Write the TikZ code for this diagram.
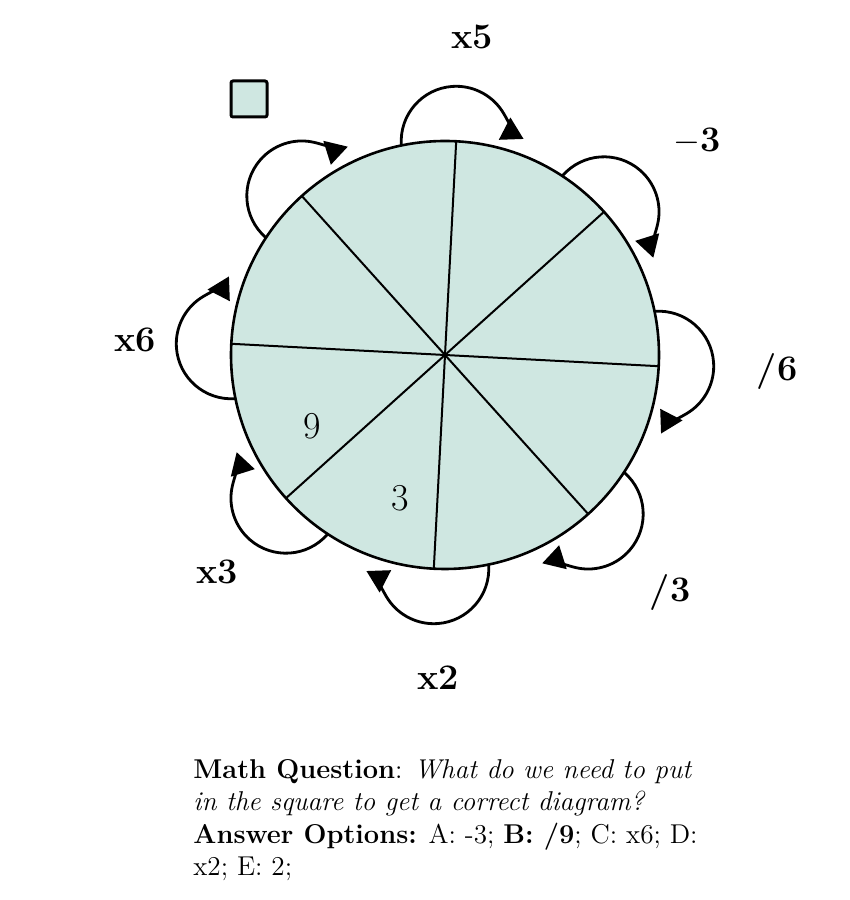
\documentclass[tikz,border=0pt]{standalone}
\usepackage{tikz}
\usetikzlibrary{arrows.meta}
\definecolor{pale}{RGB}{207,231,225}

\begin{document}
\begin{tikzpicture}[x = 0.5pt, y = 0.5pt,
  hop/.style = {line width = 1.4pt, -{Triangle[reversed, length = 11pt, width = 12pt]}},
  cut/.style = {line width = 1pt},
  oplabel/.style = {font = \fontsize{18}{20}\selectfont\bfseries},
  numlabel/.style = {font = \fontsize{19}{22}\selectfont}]
\useasboundingbox (0, 0) rectangle (850, 900);
\coordinate (C) at (445, 545);
% Wheel
\draw[fill = pale, line width = 1.3pt] (C) circle[radius = 214];
\draw[cut] (C) +(87:214) -- +(267:214);
\draw[cut] (C) +(42:214) -- +(222:214);
\draw[cut] (C) +(-3:214) -- +(177:214);
\draw[cut] (C) +(-48:214) -- +(132:214);
% Arcs
\draw[hop] (C) ++(87:214) ++(184:55) arc[start angle = 184, end angle = 2, radius = 55];
\draw[hop] (C) ++(42:214) ++(139:55) arc[start angle = 139, end angle = -43, radius = 55];
\draw[hop] (C) ++(-3:214) ++(94:55) arc[start angle = 94, end angle = -88, radius = 55];
\draw[hop] (C) ++(-48:214) ++(49:55) arc[start angle = 49, end angle = -133, radius = 55];
\draw[hop] (C) ++(267:214) ++(4:55) arc[start angle = 4, end angle = -178, radius = 55];
\draw[hop] (C) ++(222:214) ++(-41:55) arc[start angle = -41, end angle = -223, radius = 55];
\draw[hop] (C) ++(177:214) ++(274:55) arc[start angle = 274, end angle = 92, radius = 55];
\draw[hop] (C) ++(132:214) ++(229:55) arc[start angle = 229, end angle = 47, radius = 55];
% Labels
\node[oplabel] (times5) at (472, 863) {x5};
\node[oplabel] (minus3) at (697, 759) {$-$3};
\node[oplabel] (over6) at (777, 528) {/6};
\node[oplabel] (over3) at (670, 307) {/3};
\node[oplabel] (times2) at (438, 222) {x2};
\node[oplabel] (times3) at (217, 328) {x3};
\node[oplabel] (times6) at (135, 560) {x6};
\node[numlabel] (nine) at (312, 474) {9};
\node[numlabel] (three) at (400, 402) {3};
\node[draw, fill = pale, line width = 1.5pt, minimum size = 18pt, inner sep = 0pt,
  rounded corners = 1pt] (box) at (249, 801) {};
% Question
\node[anchor = north west, inner sep = 0pt, align = left,
  font = \fontsize{13.6}{16.2}\selectfont] (question) at (193, 141)
  {\textbf{Math Question}: \textit{What do we need to put}\\
   \textit{in the square to get a correct diagram?}\\
   \textbf{Answer Options:} A: -3; \textbf{B: /9}; C: x6; D:\\
   x2; E: 2;};
\end{tikzpicture}
\end{document}
